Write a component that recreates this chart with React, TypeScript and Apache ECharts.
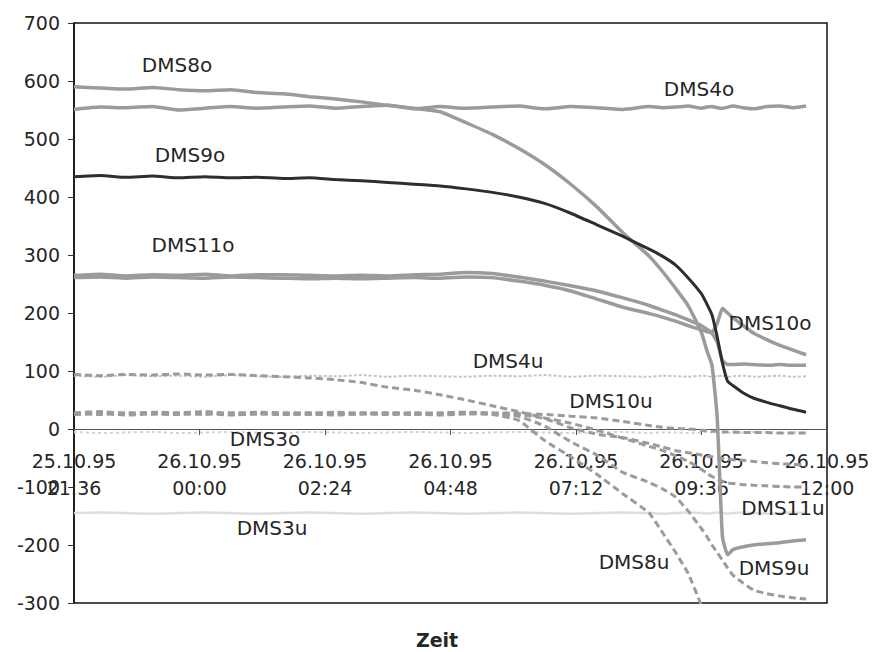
import React, { useEffect, useRef } from 'react';
import * as echarts from 'echarts';

// time in hours after 25.10.95 21:36
const hours = [0, 0.5, 1, 1.5, 2, 2.5, 3, 3.5, 4, 4.5, 5, 5.5, 6, 6.5, 7, 7.5, 8, 8.5, 9, 9.5, 10, 10.5, 11,
  11.25, 11.5, 11.75, 12, 12.1, 12.2, 12.3, 12.4, 12.5, 12.6, 12.8, 13, 13.25, 13.5, 13.75, 14];

const dateLabels = ['25.10.95', '26.10.95', '26.10.95', '26.10.95', '26.10.95', '26.10.95', '26.10.95'];
const timeLabels = ['21:36', '00:00', '02:24', '04:48', '07:12', '09:36', '12:00'];

const DMS4o = [551, 555, 554, 556, 550, 553, 556, 553, 555, 557, 553, 556, 558, 552, 556, 553, 555, 557, 552, 556, 554, 551, 556,
  554, 555, 557, 553, 555, 556, 554, 553, 555, 557, 554, 552, 556, 557, 554, 557];
const DMS8o = [590, 588, 586, 589, 585, 583, 585, 580, 578, 573, 569, 564, 558, 553, 547, 528, 508, 484, 456, 422, 383, 338, 298,
  272, 243, 212, 166, 136, 110, 20, -185, -217, -208, -203, -200, -198, -196, -193, -191];
const DMS9o = [435, 437, 434, 436, 433, 435, 433, 434, 432, 433, 430, 428, 425, 422, 419, 414, 408, 400, 389, 372, 352, 332, 310,
  298, 283, 260, 233, 216, 197, 159, 114, 82, 75, 62, 53, 46, 40, 34, 29];
const DMS10o = [265, 267, 264, 266, 265, 267, 264, 266, 266, 265, 264, 265, 264, 266, 267, 270, 268, 262, 255, 247, 238, 226, 213,
  205, 197, 188, 178, 172, 167, 182, 208, 200, 192, 178, 165, 154, 144, 136, 128];
const DMS11o = [261, 262, 260, 262, 261, 260, 262, 261, 260, 259, 260, 259, 260, 261, 260, 262, 261, 255, 248, 238, 224, 210, 199,
  193, 186, 178, 171, 168, 165, 150, 118, 111, 111, 112, 111, 110, 111, 110, 110];
const DMS3o = [-5, -7, -6, -5, -7, -6, -5, -6, -7, -5, -6, -7, -6, -5, -6, -7, -6, -5, -6, -7, -6, -5, -7,
  -6, -6, -7, -6, -5, -6, -7, -6, -6, -7, -6, -5, -6, -7, -6, -6];
const DMS4u = [92, 90, 93, 91, 92, 90, 93, 91, 90, 92, 91, 93, 90, 92, 91, 90, 92, 91, 93, 90, 92, 91, 90,
  92, 91, 90, 92, 91, 90, 91, 92, 90, 91, 92, 90, 91, 92, 90, 91];
const DMS3u = [-145, -144, -145, -146, -145, -144, -145, -146, -145, -144, -145, -146, -145, -144, -145, -146, -145, -144, -145, -146, -145, -144, -145,
  -146, -145, -144, -145, -146, -145, -144, -145, -146, -145, -144, -145, -146, -145, -144, -145];
const DMS10u = [28, 30, 27, 29, 28, 30, 27, 29, 28, 27, 29, 27, 28, 27, 28, 29, 28, 27, 25, 22, 19, 13, 6,
  3, 1, 0, -2, -3, -4, -4, -5, -5, -5, -6, -6, -6, -7, -7, -7];
const DMS11u = [94, 92, 94, 93, 95, 93, 94, 92, 90, 88, 85, 80, 72, 67, 59, 50, 40, 30, 19, 10, -2, -16, -30,
  -37, -46, -56, -70, -76, -82, -87, -90, -93, -94, -96, -97, -98, -99, -100, -100];
const unlabeledU = [27, 25, 28, 26, 27, 25, 28, 26, 27, 28, 26, 28, 27, 28, 26, 27, 27, 25, 18, 2, -9, -15, -25,
  -31, -37, -41, -45, -47, -48, -50, -51, -52, -53, -54, -56, -58, -60, -61, -62];
const DMS9u = [26, 28, 25, 27, 26, 28, 25, 27, 26, 25, 27, 26, 27, 25, 26, 27, 26, 22, 5, -22, -45, -75, -92,
  -103, -117, -142, -172, -185, -200, -213, -226, -240, -252, -266, -278, -284, -288, -291, -293];
const DMS8u = [25, 27, 24, 26, 25, 27, 24, 26, 25, 26, 24, 26, 25, 26, 24, 26, 25, 15, -20, -48, -78, -112, -145,
  -178, -212, -250, -305, -335, null, null, null, null, null, null, null, null, null, null, null];

const FONT = 'DejaVu Sans';
const TXT = '#262626';
const GREY = '#9b9b9b';

function line(name: string, values: (number | null)[], color: string, width: number, type: any, z = 2) {
  return {
    type: 'line',
    name,
    data: hours.map((h, i) => [h, values[i]]),
    symbol: 'none',
    smooth: 0.15,
    silent: true,
    z,
    lineStyle: { color, width, type, cap: 'butt' },
  };
}

const labels: [string, number, number][] = [
  ['DMS8o', 177, 65], ['DMS4o', 699, 89], ['DMS9o', 190, 155], ['DMS11o', 193, 245],
  ['DMS10o', 770, 323], ['DMS4u', 508, 361], ['DMS10u', 611, 401], ['DMS3o', 265, 439],
  ['DMS11u', 783, 508], ['DMS3u', 272, 528], ['DMS8u', 634, 562], ['DMS9u', 774, 568],
];

const GRID_TOP = 23;
const GRID_BOTTOM = 49;
const CHART_H = 652;
const Y_MIN = -300;
const Y_MAX = 700;

export default function App() {
  const ref = useRef<HTMLDivElement>(null);
  useEffect(() => {
    const chart = echarts.init(ref.current!, null, { renderer: 'svg' });
    const dash = [7, 4];
    // place the time axis where y = 0 (as in the original Excel chart)
    const plotH = CHART_H - GRID_TOP - GRID_BOTTOM;
    const zeroOffset = -Math.round((0 - Y_MIN) / (Y_MAX - Y_MIN) * plotH);
    chart.setOption({
      animation: false,
      backgroundColor: '#ffffff',
      grid: { left: 74, right: 46, top: GRID_TOP, bottom: GRID_BOTTOM, show: true, borderColor: '#111', borderWidth: 1.5, containLabel: false, outerBoundsMode: 'none' },
      xAxis: {
        type: 'value', min: 0, max: 14.4, interval: 2.4,
        position: 'bottom',
        offset: zeroOffset,
        axisLine: { show: true, onZero: false, lineStyle: { color: '#555', width: 1 } },
        axisTick: { show: true, length: 6, lineStyle: { color: '#555' } },
        splitLine: { show: false },
        axisLabel: {
          showMinLabel: true, showMaxLabel: true, hideOverlap: false,
          fontSize: 19, lineHeight: 27, color: TXT, fontFamily: FONT, margin: 18,
          formatter: (v: number) => {
            const i = Math.round(v / 2.4);
            return `${dateLabels[i]}\n${timeLabels[i]}`;
          },
        },
      },
      yAxis: {
        type: 'value', min: Y_MIN, max: Y_MAX, interval: 100,
        axisLine: { show: true, onZero: false, lineStyle: { color: '#111', width: 1.5 } },
        axisTick: { show: true, length: 6, lineStyle: { color: '#333' } },
        splitLine: { show: false },
        axisLabel: { fontSize: 19, color: TXT, fontFamily: FONT, margin: 14 },
      },
      series: [
        line('DMS3u', DMS3u, '#dedede', 2.5, 'solid'),
        line('DMS3o', DMS3o, '#d2d2d2', 2, [3, 3]),
        line('DMS4u', DMS4u, '#c4c4c4', 2, [3, 2]),
        line('DMS10u', DMS10u, GREY, 3, dash),
        line('', unlabeledU, GREY, 3, dash),
        line('DMS11u', DMS11u, GREY, 3, dash),
        line('DMS9u', DMS9u, GREY, 3, dash),
        line('DMS8u', DMS8u, GREY, 3, dash),
        line('DMS4o', DMS4o, GREY, 3.5, 'solid'),
        line('DMS11o', DMS11o, GREY, 3.5, 'solid'),
        line('DMS10o', DMS10o, GREY, 3.5, 'solid'),
        line('DMS8o', DMS8o, GREY, 3.5, 'solid'),
        line('DMS9o', DMS9o, '#2e2e2e', 3, 'solid', 3),
      ],
      graphic: [
        ...labels.map(([t, x, y]) => ({
          type: 'text', x, y, z: 100,
          style: { text: t, fontSize: 20, fontFamily: FONT, fill: TXT, align: 'center', verticalAlign: 'middle', textAlign: 'center', textVerticalAlign: 'middle' },
        })),
        {
          type: 'text', x: 437, y: 640, z: 100,
          style: { text: 'Zeit', fontSize: 19, fontWeight: 'bold', fontFamily: FONT, fill: TXT, align: 'center', verticalAlign: 'middle', textAlign: 'center', textVerticalAlign: 'middle' },
        },
      ],
    });
    return () => chart.dispose();
  }, []);
  return <div ref={ref} style={{ position: 'fixed', left: 0, top: 0, width: 873, height: 652 }} />;
}
